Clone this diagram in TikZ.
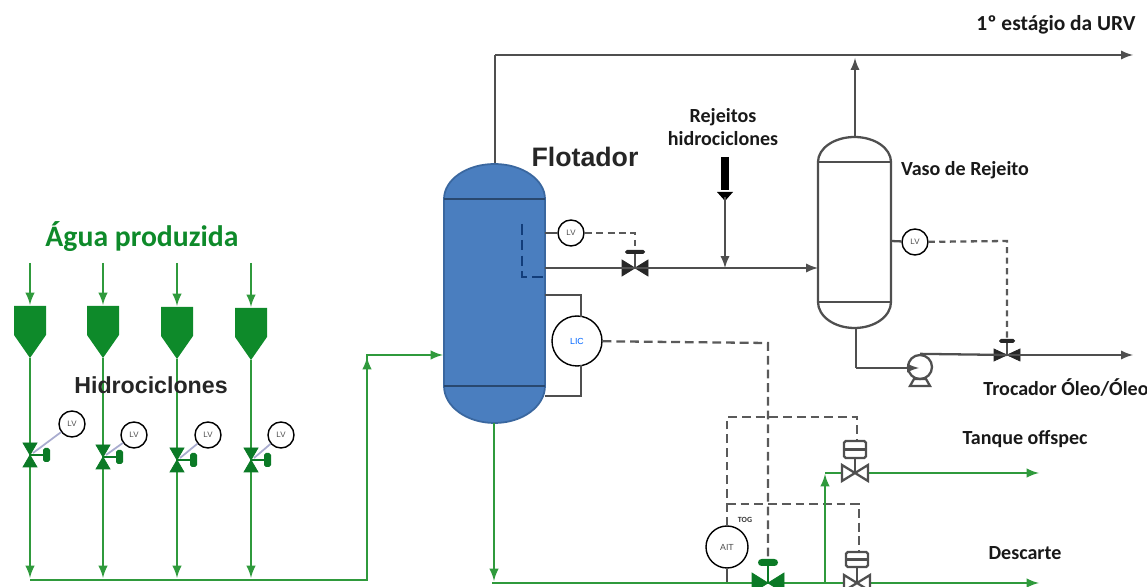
\documentclass[tikz,border=0pt]{standalone}
\usepackage{fontspec}
\setmainfont{Carlito}
\newfontfamily\arialfont{Liberation Sans}
\usetikzlibrary{positioning}
\definecolor{pipegray}{HTML}{4F4F4F}
\definecolor{signalgray}{HTML}{5A5A5A}
\definecolor{pipegreen}{HTML}{2F9A3C}
\definecolor{darkgreen}{HTML}{0E8A2A}
\definecolor{valvegreen}{HTML}{0B7A26}
\definecolor{vesselblue}{HTML}{4A7EBF}
\definecolor{vesseledge}{HTML}{3A679F}
\definecolor{innerblue}{HTML}{123D7A}
\definecolor{lilac}{HTML}{A9ACCF}
\tikzset{
  pipe/.style={
    line width=1.3pt,
    draw=pipegray
  },
  greenpipe/.style={
    line width=1.4pt,
    draw=pipegreen
  },
  signal/.style={
    line width=1.3pt,
    draw=signalgray,
    dash pattern=on 5pt off 2.8pt
  },
  instr/.style={
    shape = circle,
    draw,
    fill = white,
    line width=0.8pt,
    inner sep = 0pt,
    minimum size = 0.52cm,
    font = \arialfont\fontsize{4.5}{5}\selectfont,
    text = black!70
  },
  valvebox/.style={
    inner sep = 0pt,
    minimum width = 0.5cm,
    minimum height = 0.3cm
  },
  label/.style={
    inner sep = 0pt,
    text = black!90,
    font = \bfseries\fontsize{11.4}{13.6}\selectfont
  },
  biglabel/.style={
    inner sep = 0pt,
    text = black!85,
    font = \arialfont\bfseries\fontsize{13.2}{16}\selectfont
  }
}
% bow tie of a valve: name, x, y, half width, half height, style
\newcommand{\drawvalve}[6]{
  \node[valvebox] (#1) at (#2,#3) {};
  \draw[#6] (#2-#4,#3-#5) -- (#2+#4,#3+#5) -- (#2+#4,#3-#5) -- (#2-#4,#3+#5) -- cycle;
}
% same for a vertical line
\newcommand{\drawvalveup}[6]{
  \node[valvebox] (#1) at (#2,#3) {};
  \draw[#6] (#2-#4,#3-#5) -- (#2+#4,#3-#5) -- (#2-#4,#3+#5) -- (#2+#4,#3+#5) -- cycle;
}
\begin{document}
\begin{tikzpicture}[x=0.02cm,y=-0.02cm]
    \useasboundingbox (0,0) rectangle (1147,587);

    % hidrociclones
    \coordinate (header) at (30,580);
    \coordinate (riser) at (367,580);
    \coordinate (feed) at (367,355);
    \foreach \i/\x/\dy/\yv/\lx/\ly in {1/30/0/455/72/424, 2/103/0/457/134/435, 3/177/1/460/208/435, 4/251/2/460/281/435}{
    \coordinate (in\i) at (\x,263);
    \coordinate (top\i) at (\x,305+\dy);
    \coordinate (tip\i) at (\x,358+\dy);
    \coordinate (out\i) at (\x,578);
    \draw[greenpipe] (tip\i) -- (\x,\yv);
    \draw[greenpipe,-latex] (\x,\yv) -- (out\i);
    \draw[greenpipe,-latex] (in\i) -- (top\i);
    \fill[darkgreen] (\x-16,306+\dy) -- (\x+16,306+\dy) -- (\x+16,335+\dy) -- (tip\i) -- (\x-16,335+\dy) -- cycle;
    \node[instr] (lv\i) at (\lx,\ly) {LV};
    \coordinate (act\i) at (\x+17,\yv);
    \draw[lilac,line width=1pt] (\x+3,\yv-2) -- (lv\i);
    \drawvalveup{hv\i}{\x}{\yv}{7}{12}{fill=valvegreen,draw=valvegreen}
    \draw[valvegreen,line width=1.3pt] (\x,\yv) -- (act\i);
    \fill[valvegreen,rounded corners=1pt] (\x+13,\yv-7) rectangle (\x+20,\yv+7);
    }
    \draw[greenpipe,-latex] (header) -- (riser) -- (feed) -- (443,355);
    \draw[greenpipe,-latex] (367,400) -- (367,357);
    \node[inner sep=0pt,text=darkgreen,font=\bfseries\fontsize{16.9}{20}\selectfont] (agua) at (142,237) {Água produzida};
    \node[biglabel] (hidro) at (151,385) {Hidrociclones};

    % flotador
    \draw[pipe] (495,164) -- (495,55) coordinate (corner);
    \coordinate (urv) at (1133,55);
    \draw[pipe,-latex] (corner) -- (urv);
    \draw[vesseledge,fill=vesselblue,line width=1pt] (444,199) arc[start angle=180,end angle=360,x radius=50.5,y radius=35] -- (545,386) arc[start angle=0,end angle=180,x radius=50.5,y radius=37] -- cycle;
    \draw[vesseledge!70!black,line width=1pt] (444,199) -- (545,199);
    \draw[vesseledge!70!black,line width=1pt] (444,386) -- (545,386);
    \draw[innerblue,line width=1.4pt,dash pattern=on 6pt off 3pt] (522,224) -- (522,277) -- (545,277);
    \node[biglabel,font=\arialfont\bfseries\fontsize{15.2}{17}\selectfont] (flotador) at (585,157) {Flotador};

    % LV e linha de rejeito
    \node[instr] (lvf) at (571,233) {LV};
    \draw[pipe] (545,233) -- (lvf);
    \drawvalve{vf}{635}{268}{13}{8}{fill=black!85,draw=black!85}
    \draw[pipe] (545,268) -- (vf.center);
    \draw[pipe,-latex] (vf.center) -- (818,268);
    \draw[pipe] (vf.center) -- (635,252);
    \fill[black!85,rounded corners=1pt] (625,250) rectangle (645,254);
    \draw[signal,dash pattern=on 4pt off 2.5pt] (lvf) -- (635,233) -- (635,246);
    \node[label,align=center] (rejeitos) at (723,127) {Rejeitos\\hidrociclones};
    \coordinate (drop) at (725,197);
    \draw[black,line width=4pt] (725,157) -- (725,190);
    \fill[black] (717,192) -- (733,192) -- (725,201) -- cycle;
    \draw[pipe,-latex] (drop) -- (725,268);

    % LIC
    \node[instr,minimum size=1cm,font=\arialfont\fontsize{5}{6}\selectfont,text=blue!60!cyan] (lic) at (577,341) {LIC};
    \draw[pipe] (545,295) -- (581,295) -- (581,317);
    \draw[pipe] (545,396) -- (581,396) -- (581,365);

    % vaso de rejeito
    \draw[pipe,fill=white] (818,162) arc[start angle=180,end angle=360,x radius=36.5,y radius=25] -- (891,302) arc[start angle=0,end angle=180,x radius=36.5,y radius=26] -- cycle;
    \draw[pipe] (818,162) -- (891,162);
    \draw[pipe] (818,302) -- (891,302);
    \draw[pipe,-latex] (855,137) -- (855,58);
    \node[label] (vaso) at (965,170) {Vaso de Rejeito};
    \node[label,font=\bfseries\fontsize{12.2}{14}\selectfont] (urvlabel) at (1056,25) {1º estágio da URV};
    \node[instr] (lvr) at (915,242) {LV};
    \draw[pipe] (891,241) -- (lvr);
    \drawvalve{vr}{1007}{355}{13}{6}{fill=black!85,draw=black!85}
    \draw[signal,dash pattern=on 3.5pt off 2.5pt] (lvr) -- (1007,241) -- (1007,338);
    \draw[pipe] (vr.center) -- (1007,341);
    \fill[black!85,rounded corners=1pt] (999,339) rectangle (1015,343);

    % bomba
    \node[shape=circle,draw=pipegray,line width=1.3pt,fill=white,minimum size=0.48cm,inner sep=0pt] (pump) at (920,367) {};
    \draw[pipe] (910,386) -- (930,386) -- (926,379) -- (914,379) -- cycle;
    \draw[pipe] (856,328) -- (856,368);
    \draw[pipe,-latex] (856,368) -- (919,368);
    \draw[pipe] (pump.north) -- (vr.center);
    \draw[pipe,-latex] (vr.center) -- (1133,355);
    \node[label] (trocador) at (1066,388) {Trocador Óleo/Óleo};

    % sinais para as valvulas de saida
    \node[instr,minimum size=0.84cm,font=\arialfont\fontsize{5}{6}\selectfont] (ait) at (727,547) {AIT};
    \node[inner sep=0pt,text=black!80,font=\bfseries\fontsize{4.5}{5}\selectfont] (tog) at (745,520) {TOG};
    \draw[signal] (lic) -- (768,343) -- (768,557);
    \draw[signal] (ait) -- (727,417) -- (857,417) -- (857,441);
    \draw[signal] (727,504) -- (859,504) -- (859,552);

    % saidas
    \draw[greenpipe,-latex] (494,423) -- (494,581);
    \draw[greenpipe,-latex] (492,583) -- (1039,583);
    \draw[greenpipe,-latex] (825,583) -- (825,474);
    \draw[greenpipe] (825,473) -- (855,473);
    \draw[greenpipe,-latex] (855,473) -- (1039,473);
    \draw[pipegray,line width=1.2pt] (ait) -- (727,582);
    % atuadores
    \foreach \n/\x/\yb/\ybb/\yv in {a/855/441/458/473, b/857/552/567/583}{
    \draw[pipe] (\x,\ybb) -- (\x,\yv);
    \draw[pipe,fill=white,rounded corners=1pt] (\x-11,\yb) rectangle (\x+11,\ybb);
    \draw[pipe] (\x-11,{(\yb+\ybb)/2}) -- (\x+11,{(\yb+\ybb)/2});
    \drawvalve{v\n}{\x}{\yv}{13}{8}{fill=white,draw=pipegray,line width=1.3pt}
    }
    \drawvalve{vg}{768}{583}{16}{10}{fill=valvegreen,draw=valvegreen}
    \draw[valvegreen,line width=1.4pt] (768,583) -- (768,565);
    \fill[valvegreen,rounded corners=2pt] (758,559) rectangle (778,566);

    \node[label] (offspec) at (1025,439) {Tanque offspec};
    \node[label] (descarte) at (1025,553) {Descarte};
\end{tikzpicture}
\end{document}
